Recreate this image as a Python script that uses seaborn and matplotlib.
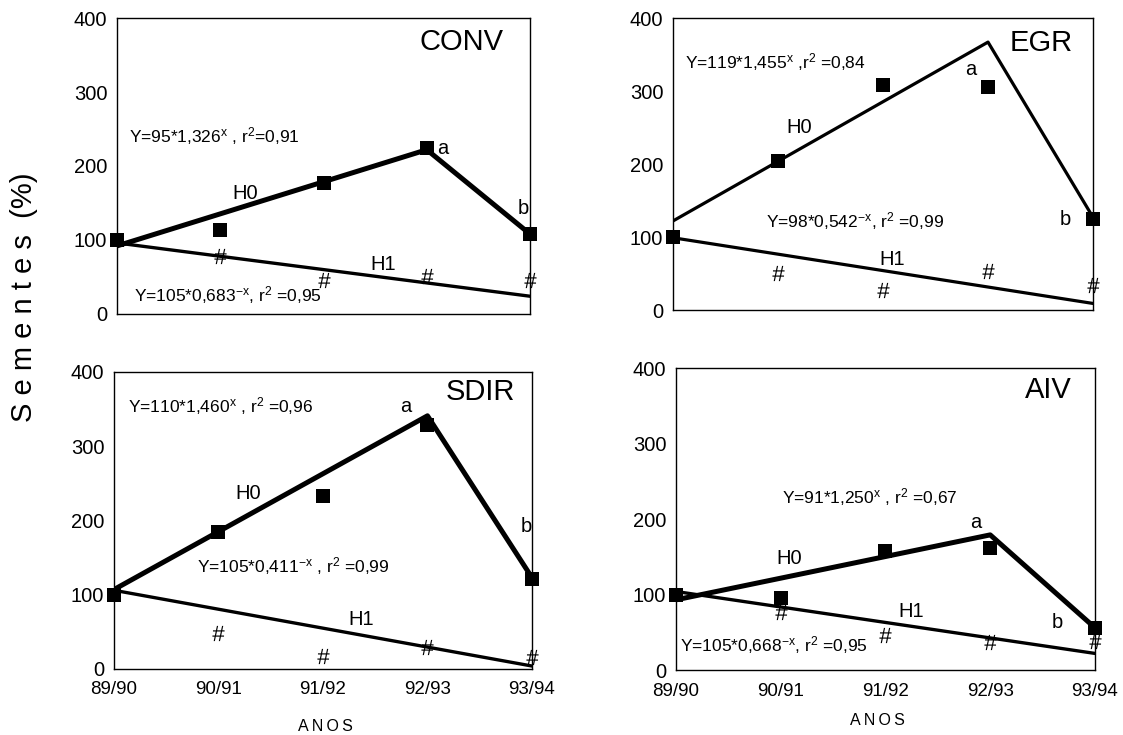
import matplotlib
matplotlib.use("Agg")
import matplotlib.pyplot as plt
import seaborn as sns
import pandas as pd

years = ['89/90', '90/91', '91/92', '92/93', '93/94']
xpos = [0, 1, 2, 3, 4]

conv_obs = [100, 114, 177, 225, 108]
conv_h1 = [None, 78, 46, 51, 46]
egr_obs = [100, 204, 308, 305, 124]
egr_h1 = [None, 51, 28, 53, 34]
sdir_obs = [100, 184, 233, 328, 121]
sdir_h1 = [None, 48, 17, 30, 16]
aiv_obs = [99, 95, 157, 161, 55]
aiv_h1 = [None, 77, 46, 37, 38]

h0_x = [0, 3, 4]
h1_x = [0, 4]
conv_h0_line = [92, 222, 108]
egr_h0_line = [122, 367, 127]
sdir_h0_line = [107, 341, 123]
aiv_h0_line = [93, 179, 56]
conv_h1_line = [96, 24]
egr_h1_line = [99, 9]
sdir_h1_line = [106, 4]
aiv_h1_line = [104, 22]

sns.set_theme(style="white")
plt.rcParams['font.family'] = ['Liberation Sans', 'DejaVu Sans']
plt.rcParams['mathtext.fontset'] = 'custom'
plt.rcParams['mathtext.rm'] = 'Liberation Sans'
plt.rcParams['mathtext.it'] = 'Liberation Sans:italic'
plt.rcParams['text.color'] = 'black'
plt.rcParams['xtick.color'] = 'black'
plt.rcParams['ytick.color'] = 'black'
plt.rcParams['axes.labelcolor'] = 'black'

fig = plt.figure(figsize=(11.23, 7.35), dpi=100)

panels = [
    dict(name='CONV', pos=[0.1042, 0.5728, 0.3678, 0.4027], obs=conv_obs, h1=conv_h1,
         h0l=conv_h0_line, h1l=conv_h1_line, lw0=3.6, lw1=2.4, xlab=False,
         title_xy=(0.935, 0.92),
         texts=[(0.12, 240, r'Y=95*1,326$^{\mathregular{x}}$ , r$^{\mathregular{2}}$=0,91', 'left'),
                (1.12, 163, 'H0', 'left'), (3.1, 224, 'a', 'left'), (3.88, 142, 'b', 'left'),
                (2.45, 67, 'H1', 'left'),
                (0.16, 26, r'Y=105*0,683$^{\mathregular{-x}}$, r$^{\mathregular{2}}$ =0,95', 'left')]),
    dict(name='EGR', pos=[0.5993, 0.5782, 0.374, 0.3973], obs=egr_obs, h1=egr_h1,
         h0l=egr_h0_line, h1l=egr_h1_line, lw0=2.3, lw1=2.3, xlab=False,
         title_xy=(0.952, 0.914),
         texts=[(0.11, 339, r'Y=119*1,455$^{\mathregular{x}}$ ,r$^{\mathregular{2}}$ =0,84', 'left'),
                (1.08, 250, 'H0', 'left'), (2.78, 330, 'a', 'left'),
                (0.89, 122, r'Y=98*0,542$^{\mathregular{-x}}$, r$^{\mathregular{2}}$ =0,99', 'left'),
                (3.68, 124, 'b', 'left'), (1.97, 69, 'H1', 'left')]),
    dict(name='SDIR', pos=[0.1015, 0.0898, 0.3722, 0.4041], obs=sdir_obs, h1=sdir_h1,
         h0l=sdir_h0_line, h1l=sdir_h1_line, lw0=3.6, lw1=2.4, xlab=True,
         title_xy=(0.959, 0.933),
         texts=[(0.13, 354, r'Y=110*1,460$^{\mathregular{x}}$ , r$^{\mathregular{2}}$ =0,96', 'left'),
                (2.74, 354, 'a', 'left'), (1.16, 237, 'H0', 'left'),
                (0.79, 139, r'Y=105*0,411$^{\mathregular{-x}}$ , r$^{\mathregular{2}}$ =0,99', 'left'),
                (3.89, 192, 'b', 'left'), (2.24, 66, 'H1', 'left')]),
    dict(name='AIV', pos=[0.602, 0.0884, 0.373, 0.4109], obs=aiv_obs, h1=aiv_h1,
         h0l=aiv_h0_line, h1l=aiv_h1_line, lw0=3.6, lw1=2.4, xlab=True,
         title_xy=(0.945, 0.927),
         texts=[(1.01, 229, r'Y=91*1,250$^{\mathregular{x}}$ , r$^{\mathregular{2}}$ =0,67', 'left'),
                (2.81, 196, 'a', 'left'), (0.96, 148, 'H0', 'left'),
                (2.12, 77, 'H1', 'left'), (3.59, 63, 'b', 'left'),
                (0.04, 33, r'Y=105*0,668$^{\mathregular{-x}}$, r$^{\mathregular{2}}$ =0,95', 'left')]),
]

for p in panels:
    ax = fig.add_axes(p['pos'])
    df_obs = pd.DataFrame({'x': xpos, 'y': p['obs']})
    df_h1 = pd.DataFrame({'x': xpos, 'y': p['h1']}).dropna()
    df_l0 = pd.DataFrame({'x': h0_x, 'y': p['h0l']})
    df_l1 = pd.DataFrame({'x': h1_x, 'y': p['h1l']})
    sns.lineplot(data=df_l1, x='x', y='y', ax=ax, color='black', lw=p['lw1'], zorder=2)
    sns.lineplot(data=df_l0, x='x', y='y', ax=ax, color='black', lw=p['lw0'], zorder=3)
    sns.scatterplot(data=df_h1, x='x', y='y', ax=ax, marker='$\\#$', s=120, color='black',
                    edgecolor='black', linewidth=0, zorder=4, clip_on=False)
    sns.scatterplot(data=df_obs, x='x', y='y', ax=ax, marker='s', s=100, color='black',
                    linewidth=0, zorder=5, clip_on=False)
    ax.set_xlim(0, 4)
    ax.set_ylim(0, 400)
    ax.set_yticks([0, 100, 200, 300, 400])
    ax.set_xticks(xpos)
    if p['xlab']:
        ax.set_xticklabels(years, fontsize=13.5)
    else:
        ax.set_xticklabels([])
    ax.tick_params(axis='y', labelsize=14.5, direction='out', length=4, width=0.8, color='black', pad=3)
    ax.tick_params(axis='x', direction='inout', length=6, width=0.8, color='black', pad=6)
    ax.set_xlabel('')
    ax.set_ylabel('')
    for s in ax.spines.values():
        s.set_color('black')
        s.set_linewidth(1.0)
    ax.text(p['title_xy'][0], p['title_xy'][1], p['name'], transform=ax.transAxes,
            ha='right', va='center', fontsize=21)
    for (tx, ty, tt, ha) in p['texts']:
        fs = 14.5 if tt in ('H0', 'H1', 'a', 'b') else 12.5
        ax.text(tx, ty, tt, ha=ha, va='center', fontsize=fs)

fig.text(0.021, 0.595, 'S e m e n t e s  (%)', rotation=90, ha='center', va='center', fontsize=21)
fig.text(0.2894, 0.011, 'A\u2009N\u2009O\u2009S', ha='center', va='center', fontsize=11.5)
fig.text(0.781, 0.020, 'A\u2009N\u2009O\u2009S', ha='center', va='center', fontsize=11.5)

fig.savefig('out.png', dpi=100)
